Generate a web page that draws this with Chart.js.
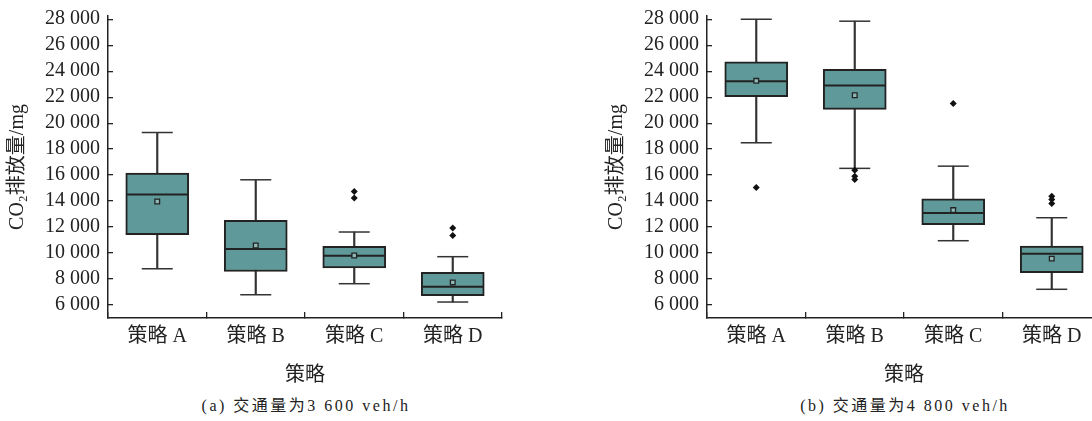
<!DOCTYPE html>
<html>
<head>
<meta charset="utf-8">
<script src="https://cdn.jsdelivr.net/npm/chart.js@4.4.0/dist/chart.umd.min.js"></script>
<style>
  html, body { margin: 0; padding: 0; background: #fff; overflow: hidden; }
  #wrap { position: relative; width: 1092px; height: 421px; overflow: hidden; }
  canvas { position: absolute; top: 0; }
  #chartLeft { left: 0; }
  #chartRight { left: 599px; }
  .caption {
    position: absolute; top: 392px; width: 400px; text-align: center;
    font-family: 'Liberation Serif', 'Noto Sans CJK SC', serif;
    font-size: 16px; letter-spacing: 2.5px; color: #222;
  }
</style>
</head>
<body>
<div id="wrap">
  <canvas id="chartLeft" width="520" height="390"></canvas>
  <canvas id="chartRight" width="520" height="390"></canvas>
  <div class="caption" style="left:106px">(a) 交通量为3 600 veh/h</div>
  <div class="caption" style="left:705px">(b) 交通量为4 800 veh/h</div>
</div>
<script>
// 类别与刻度
const categories = ['策略 A', '策略 B', '策略 C', '策略 D'];
const yTicks = [6000, 8000, 10000, 12000, 14000, 16000, 18000, 20000, 22000, 24000, 26000, 28000];

// (a) 交通量 3 600 veh/h
const min3600 = [8790, 6790, 7640, 6230];
const q1_3600 = [11410, 8580, 8850, 6720];
const median3600 = [14510, 10310, 9790, 7410];
const q3_3600 = [16150, 12510, 10510, 8510];
const max3600 = [19280, 15640, 11620, 9720];
const mean3600 = [13970, 10580, 9810, 7740];
const outliers3600 = [[], [], [14740, 14230], [11920, 11350]];

// (b) 交通量 4 800 veh/h
const min4800 = [18490, 16520, 10950, 7210];
const q1_4800 = [22030, 21060, 12190, 8490];
const median4800 = [23230, 22900, 13080, 9950];
const q3_4800 = [24720, 24150, 14180, 10540];
const max4800 = [28000, 27850, 16690, 12720];
const mean4800 = [23260, 22150, 13310, 9570];
const outliers4800 = [[15050], [16370, 15920, 15670], [21520], [14380, 14130, 13820]];

const FONT = "'Liberation Serif', 'Noto Sans CJK SC', serif";
const TEAL = '#609999';
const DARK = '#222';
const LINE = '#333';

function fmt(v) {
    return String(v).replace(/\B(?=(\d{3})+(?!\d))/g, ' ');
}

function makeBoxChart(id, mins, q1s, medians, q3s, maxs, means, outliers) {
    const outlierPoints = [];
    outliers.forEach((list, i) => list.forEach(v => outlierPoints.push({ x: categories[i], y: v })));

    const ctx = document.getElementById(id).getContext('2d');
    return new Chart(ctx, {
        data: {
            labels: categories,
            datasets: [
                // 须线
                { type: 'bar', data: mins.map((v, i) => [v, maxs[i]]), backgroundColor: LINE,
                  barThickness: 1.5, grouped: false, borderWidth: 0, order: 6 },
                // 须线端
                { type: 'line', data: mins, showLine: false, pointStyle: 'line', pointRadius: 15.5,
                  pointBorderWidth: 1.5, pointBorderColor: LINE, order: 5 },
                { type: 'line', data: maxs, showLine: false, pointStyle: 'line', pointRadius: 15.5,
                  pointBorderWidth: 1.5, pointBorderColor: LINE, order: 5 },
                // 箱体
                { type: 'bar', data: q1s.map((v, i) => [v, q3s[i]]), backgroundColor: TEAL,
                  borderColor: DARK, borderWidth: 2, borderSkipped: false, barThickness: 63,
                  grouped: false, order: 4 },
                // 中位数
                { type: 'line', data: medians, showLine: false, pointStyle: 'line', pointRadius: 30.5,
                  pointBorderWidth: 2, pointBorderColor: DARK, order: 3 },
                // 均值
                { type: 'line', data: means, showLine: false, pointStyle: 'rect', pointRadius: 3.3,
                  pointBorderWidth: 1.3, pointBorderColor: DARK, pointBackgroundColor: '#8fb8b8', order: 2 },
                // 异常值
                { type: 'line', data: outlierPoints, showLine: false, pointStyle: 'rectRot', pointRadius: 3.5,
                  pointBorderWidth: 0, pointBackgroundColor: '#111', order: 1 }
            ]
        },
        options: {
            responsive: false,
            animation: false,
            events: [],
            layout: { autoPadding: false, padding: { top: 16, right: 18, left: 0, bottom: 0 } },
            plugins: { legend: { display: false }, tooltip: { enabled: false } },
            scales: {
                x: {
                    type: 'category',
                    offset: true,
                    afterFit: s => { s.height = 72; s.paddingLeft = 0; s.paddingRight = 0; },
                    grid: { drawOnChartArea: false, tickLength: -6, color: DARK, lineWidth: 1.3 },
                    border: { display: true, color: DARK, width: 1.5 },
                    ticks: { color: DARK, padding: 13, font: { family: FONT, size: 20 } },
                    title: { display: true, text: '策略', color: DARK, padding: { bottom: 2, top: 0 },
                             font: { family: FONT, size: 20 } }
                },
                y: {
                    type: 'linear',
                    min: 5000,
                    max: 28250,
                    afterFit: s => { s.width = 108; s.paddingTop = 0; s.paddingBottom = 0; },
                    afterBuildTicks: s => { s.ticks = yTicks.map(v => ({ value: v })); },
                    grid: { drawOnChartArea: false, tickLength: -5, color: DARK, lineWidth: 1.3 },
                    border: { display: true, color: DARK, width: 1.5 },
                    ticks: { color: DARK, padding: 13, autoSkip: false, font: { family: FONT, size: 20 },
                             callback: v => fmt(v) },
                    title: { display: true, text: 'CO₂排放量/mg', color: DARK, padding: { top: 6, bottom: 0 },
                             font: { family: FONT, size: 20 } }
                }
            }
        }
    });
}

makeBoxChart('chartLeft', min3600, q1_3600, median3600, q3_3600, max3600, mean3600, outliers3600);
makeBoxChart('chartRight', min4800, q1_4800, median4800, q3_4800, max4800, mean4800, outliers4800);
</script>
</body>
</html>
